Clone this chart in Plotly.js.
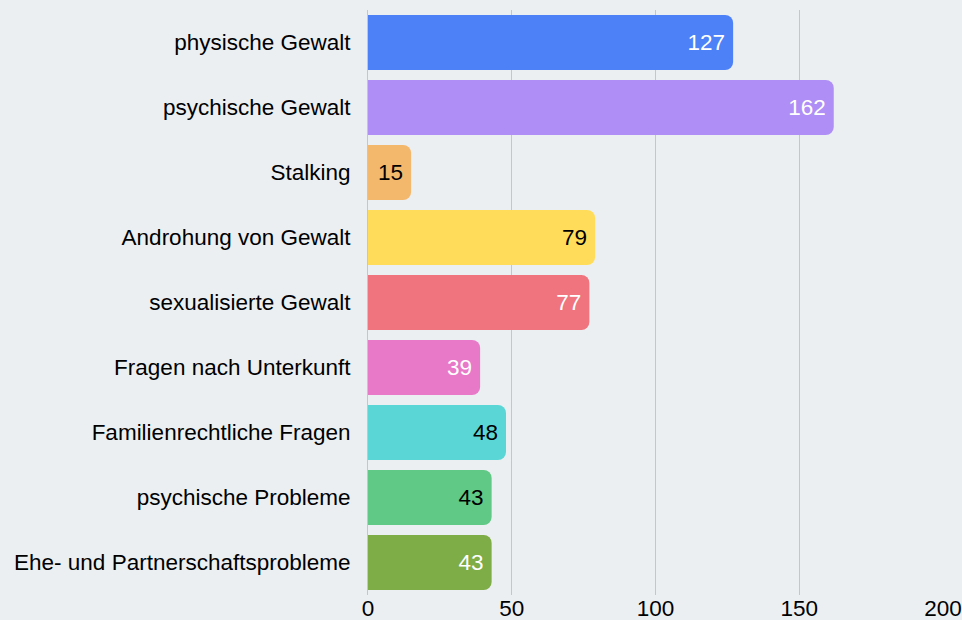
<!DOCTYPE html>
<html>
<head>
<meta charset="utf-8">
<script src="https://cdn.plot.ly/plotly-3.0.1.min.js"></script>
<style>
    html, body { margin: 0; padding: 0; background: #eceff2; }
    #graph { width: 962px; height: 620px; }
</style>
</head>
<body>
<div id="graph"></div>
<script>
const categories = [
    'physische Gewalt',
    'psychische Gewalt',
    'Stalking',
    'Androhung von Gewalt',
    'sexualisierte Gewalt',
    'Fragen nach Unterkunft',
    'Familienrechtliche Fragen',
    'psychische Probleme',
    'Ehe- und Partnerschaftsprobleme'
];
const counts = [127, 162, 15, 79, 77, 39, 48, 43, 43];
const barColors = ['#4d81f7', '#af8ef5', '#f4b86d', '#ffdd5a', '#ef747e', '#e879c8', '#5bd6d6', '#60c985', '#7eac46'];
const labelColors = ['#ffffff', '#ffffff', '#000000', '#000000', '#ffffff', '#ffffff', '#000000', '#000000', '#ffffff'];
const xTicks = [0, 50, 100, 150, 200];

let trace1 = {
    type: 'bar',
    orientation: 'h',
    x: counts,
    y: categories,
    marker: { color: barColors },
    text: counts.map(String),
    textposition: 'inside',
    insidetextanchor: 'end',
    insidetextfont: { family: 'Liberation Sans, Arial, sans-serif', size: 22.5, color: labelColors },
    hoverinfo: 'none'
};

let layout = {
    width: 962,
    height: 620,
    margin: { l: 368, r: 19, t: 10, b: 25 },
    paper_bgcolor: '#eceff2',
    plot_bgcolor: '#eceff2',
    font: { family: 'Liberation Sans, Arial, sans-serif', size: 22.5, color: '#000000' },
    bargap: 0.154,
    barcornerradius: 8,
    showlegend: false,
    xaxis: {
        range: [0, 200],
        tickvals: xTicks,
        showgrid: true,
        gridcolor: '#c4c6c8',
        gridwidth: 1,
        zeroline: false,
        showline: false,
        ticks: '',
        ticklabelstandoff: -3,
        tickfont: { size: 22.5 },
        fixedrange: true
    },
    yaxis: {
        autorange: 'reversed',
        showgrid: false,
        zeroline: false,
        showline: true,
        linecolor: '#c4c6c8',
        ticks: '',
        ticklabelstandoff: 12,
        tickfont: { size: 22.5 },
        fixedrange: true
    }
};

Plotly.newPlot('graph', [trace1], layout, { displayModeBar: false, staticPlot: true });
</script>
</body>
</html>
